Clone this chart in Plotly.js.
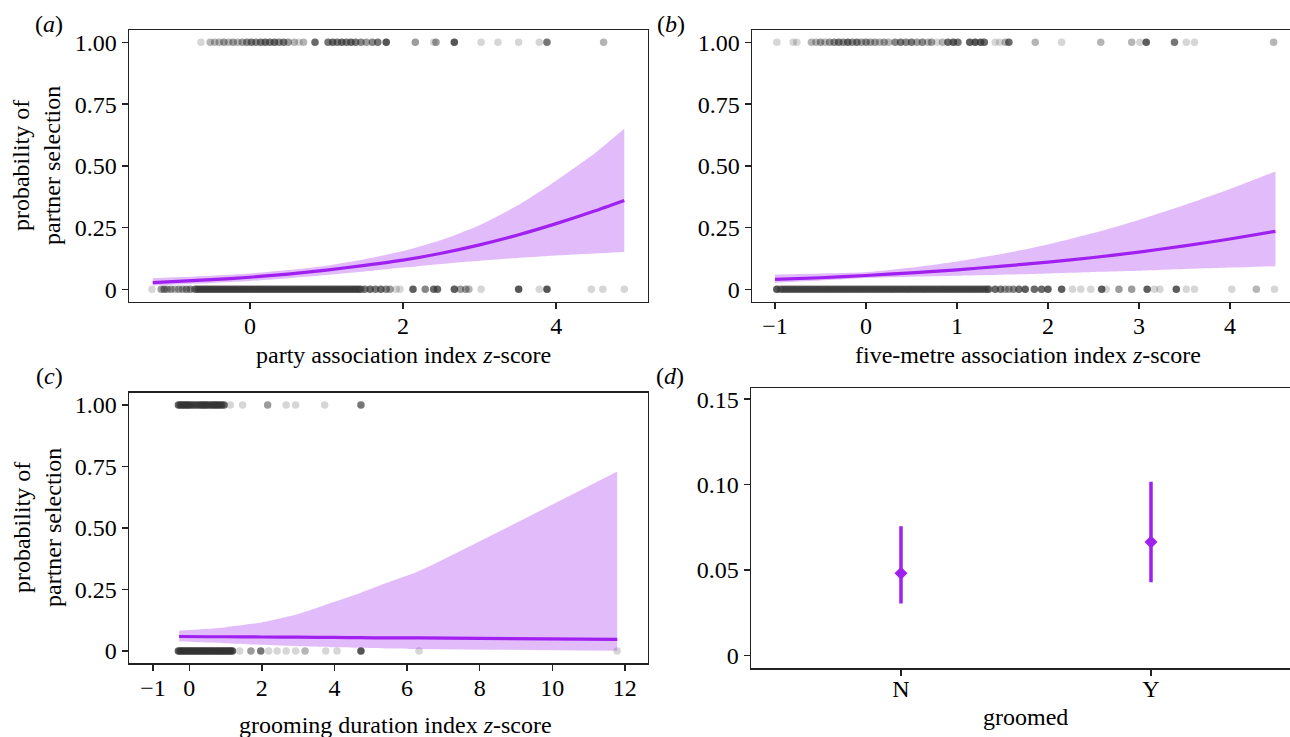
<!DOCTYPE html>
<html>
<head>
<meta charset="utf-8">
<script src="https://cdn.plot.ly/plotly-3.0.1.min.js"></script>
<style>html,body{margin:0;padding:0;background:#fff;}#chart{width:1290px;height:737px;}</style>
</head>
<body>
<div id="chart"></div>
<script>
// ---------- Panel (a): party association index ----------
const aCurveX  = [-1.27, -0.5, 0, 0.5, 1, 1.5, 2, 2.5, 3, 3.5, 4, 4.5, 4.89];
const aFit     = [0.027, 0.039, 0.049, 0.062, 0.078, 0.097, 0.118, 0.146, 0.180, 0.220, 0.266, 0.317, 0.360];
const aUpper   = [0.045, 0.055, 0.064, 0.078, 0.096, 0.122, 0.155, 0.200, 0.260, 0.340, 0.440, 0.550, 0.650];
const aLower   = [0.016, 0.026, 0.034, 0.045, 0.058, 0.072, 0.088, 0.103, 0.116, 0.127, 0.137, 0.145, 0.151];
const aSelX    = [-0.64,-0.52,-0.46,-0.40,-0.34,-0.28,-0.22,-0.16,-0.10,-0.04,0.02,0.08,0.14,0.20,0.26,0.32,0.38,0.44,0.50,0.58,0.64,0.70,0.85,1.02,1.08,1.14,1.20,1.26,1.32,1.38,1.45,1.52,1.60,1.67,1.78,2.16,2.40,2.43,2.67,3.02,3.24,3.51,3.78,3.88,4.62];
const aSelN    = [1,2,2,2,3,2,3,2,3,4,5,4,5,6,5,6,4,5,3,2,1,2,6,5,6,5,6,5,6,5,4,3,4,5,8,3,1,3,8,1,1,1,1,5,2];
const aNotX    = [-1.28,-1.16,-1.12,-1.08,-1.03,-0.98,-0.93,-0.88,-0.83,-0.78,
                  1.50,1.57,1.64,1.71,1.78,1.83,1.91,1.96,2.13,2.29,2.40,2.45,2.67,2.75,2.82,2.86,3.02,3.51,3.78,3.88,4.46,4.61,4.89];
const aNotN    = [1,3,4,3,3,2,3,3,4,4,
                  5,6,5,6,4,3,1,1,7,4,6,6,7,3,3,2,1,8,1,8,1,1,1];
// densely overlapping non-selected dyads (each position ~4 observations)
const aNotBandX = [-0.72,-0.695,-0.67,-0.645,-0.62,-0.595,-0.57,-0.545,-0.52,-0.495,-0.47,-0.445,-0.42,-0.395,-0.37,-0.345,-0.32,-0.295,-0.27,-0.245,-0.22,-0.195,-0.17,-0.145,-0.12,-0.095,-0.07,-0.045,-0.02,0.005,0.03,0.055,0.08,0.105,0.13,0.155,0.18,0.205,0.23,0.255,0.28,0.305,0.33,0.355,0.38,0.405,0.43,0.455,0.48,0.505,0.53,0.555,0.58,0.605,0.63,0.655,0.68,0.705,0.73,0.755,0.78,0.805,0.83,0.855,0.88,0.905,0.93,0.955,0.98,1.005,1.03,1.055,1.08,1.105,1.13,1.155,1.18,1.205,1.23,1.255,1.28,1.305,1.33,1.355,1.38,1.405,1.43,1.45];
const aNotBandN = 4;

// ---------- Panel (b): five-metre association index ----------
const bCurveX  = [-1, -0.5, 0, 0.5, 1, 1.5, 2, 2.5, 3, 3.5, 4, 4.5];
const bFit     = [0.040, 0.047, 0.056, 0.067, 0.079, 0.094, 0.110, 0.129, 0.151, 0.176, 0.204, 0.235];
const bUpper   = [0.060, 0.064, 0.069, 0.088, 0.113, 0.144, 0.182, 0.228, 0.281, 0.341, 0.406, 0.477];
const bLower   = [0.027, 0.036, 0.046, 0.051, 0.055, 0.059, 0.064, 0.070, 0.075, 0.082, 0.088, 0.094];
const bSelX    = [-0.98,-0.80,-0.76,-0.60,-0.55,-0.50,-0.45,-0.40,-0.35,-0.30,-0.25,-0.20,-0.15,-0.10,-0.05,0.00,0.05,0.10,0.15,0.20,0.25,0.32,0.38,0.44,0.50,0.56,0.62,0.68,0.72,0.78,0.84,0.90,0.96,1.01,1.14,1.20,1.26,1.30,1.42,1.47,1.53,1.57,1.86,2.15,2.58,2.92,3.01,3.08,3.39,3.52,3.61,4.48];
const bSelN    = [1,1,1,2,2,3,2,3,4,5,4,6,4,5,3,4,3,3,2,3,2,4,5,4,5,3,4,2,3,1,2,6,7,5,7,8,7,6,1,1,2,6,2,1,2,2,1,7,5,1,1,2];
const bNotX    = [-0.98,
                  1.42,1.48,1.53,1.57,1.62,1.68,1.75,1.85,1.93,2.00,2.15,2.27,2.36,2.47,2.59,2.64,2.78,2.92,3.09,3.17,3.23,3.41,3.52,3.61,4.02,4.29,4.49];
const bNotN    = [8,
                  6,5,3,3,4,6,7,6,6,7,7,1,1,1,7,1,3,3,7,1,1,7,1,1,1,2,1];
const bNotBandX = [-0.94,-0.915,-0.89,-0.865,-0.84,-0.815,-0.79,-0.765,-0.74,-0.715,-0.69,-0.665,-0.64,-0.615,-0.59,-0.565,-0.54,-0.515,-0.49,-0.465,-0.44,-0.415,-0.39,-0.365,-0.34,-0.315,-0.29,-0.265,-0.24,-0.215,-0.19,-0.165,-0.14,-0.115,-0.09,-0.065,-0.04,-0.015,0.01,0.035,0.06,0.085,0.11,0.135,0.16,0.185,0.21,0.235,0.26,0.285,0.31,0.335,0.36,0.385,0.41,0.435,0.46,0.485,0.51,0.535,0.56,0.585,0.61,0.635,0.66,0.685,0.71,0.735,0.76,0.785,0.81,0.835,0.86,0.885,0.91,0.935,0.96,0.985,1.01,1.035,1.06,1.085,1.11,1.135,1.16,1.185,1.21,1.235,1.26,1.285,1.31,1.335,1.35];
const bNotBandN = 4;

// ---------- Panel (c): grooming duration index ----------
const cCurveX  = [-0.28, 0.5, 1, 2, 3, 4, 4.7, 5.5, 6.33, 11.79];
const cFit     = [0.059, 0.058, 0.058, 0.057, 0.056, 0.055, 0.054, 0.053, 0.053, 0.047];
const cUpper   = [0.082, 0.090, 0.097, 0.116, 0.150, 0.200, 0.235, 0.280, 0.325, 0.730];
const cLower   = [0.040, 0.035, 0.032, 0.025, 0.019, 0.015, 0.013, 0.010, 0.008, 0.001];
const cSelX    = [-0.30,-0.25,-0.20,-0.15,-0.10,-0.05,0.00,0.05,0.10,0.15,0.20,0.25,0.30,0.35,0.40,0.45,0.50,0.55,0.60,0.65,0.70,0.75,0.80,0.85,0.90,0.96,1.13,1.47,2.16,2.67,2.93,3.73,4.73];
const cSelN    = [6,6,6,6,6,6,6,4,4,4,4,4,5,6,6,6,5,4,5,5,6,6,5,5,6,6,1,1,3,1,1,1,5];
const cNotX    = [-0.30,-0.25,-0.20,-0.15,-0.10,-0.05,0.00,0.05,0.10,0.15,0.20,0.25,0.30,0.35,0.40,0.45,0.50,0.55,0.60,0.65,0.70,0.75,0.80,0.85,0.90,0.95,1.00,1.05,1.10,1.15,1.19,
                  1.39,1.70,1.97,2.19,2.42,2.67,2.93,3.19,3.76,4.07,4.73,6.33,11.79];
const cNotN    = [7,7,7,7,7,7,7,7,7,7,7,7,7,7,7,7,7,7,7,7,7,7,7,7,7,7,7,7,7,7,7,
                  1,3,5,1,1,1,1,2,1,1,8,1,1];

// ---------- Panel (d): groomed ----------
const dCats    = ['N', 'Y'];
const dEst     = [0.0481, 0.0664];
const dLo      = [0.0304, 0.0428];
const dHi      = [0.0756, 0.1017];

// ---------- styling ----------
const PURPLE = '#A020F0';
const RIBBON = 'rgba(160,32,240,0.30)';
const FONT = 'Liberation Serif';
const FS = 24;
const TXT = '#000';
const W = 1290, H = 737;
const px = v => v / W;
const py = v => 1 - v / H;

function alphaOf(n) { return 1 - Math.pow(0.8, n); }

function rug(xs, ns, yv, xa, ya) {
  const op = Array.isArray(ns) ? ns.map(alphaOf) : alphaOf(ns);
  return {
    type: 'scatter', mode: 'markers', x: xs, y: xs.map(() => yv),
    xaxis: xa, yaxis: ya, hoverinfo: 'skip', showlegend: false,
    marker: { size: 7.5, color: '#333333', opacity: op, line: { width: 0 } }
  };
}
function ribbon(xs, lo, hi, xa, ya) {
  return [
    { type: 'scatter', mode: 'lines', x: xs, y: lo, xaxis: xa, yaxis: ya,
      line: { width: 0, color: RIBBON, shape: 'spline', smoothing: 0.6 }, hoverinfo: 'skip', showlegend: false },
    { type: 'scatter', mode: 'lines', x: xs, y: hi, xaxis: xa, yaxis: ya, fill: 'tonexty',
      fillcolor: RIBBON, line: { width: 0, color: RIBBON, shape: 'spline', smoothing: 0.6 }, hoverinfo: 'skip', showlegend: false }
  ];
}
function fitLine(xs, ys, xa, ya) {
  return { type: 'scatter', mode: 'lines', x: xs, y: ys, xaxis: xa, yaxis: ya,
    line: { width: 3.2, color: PURPLE, shape: 'spline', smoothing: 0.6 }, hoverinfo: 'skip', showlegend: false };
}

const data = [
  rug(aSelX, aSelN, 1, 'x', 'y'), rug(aNotX, aNotN, 0, 'x', 'y'), rug(aNotBandX, aNotBandN, 0, 'x', 'y'),
  ...ribbon(aCurveX, aLower, aUpper, 'x', 'y'), fitLine(aCurveX, aFit, 'x', 'y'),
  rug(bSelX, bSelN, 1, 'x2', 'y2'), rug(bNotX, bNotN, 0, 'x2', 'y2'), rug(bNotBandX, bNotBandN, 0, 'x2', 'y2'),
  ...ribbon(bCurveX, bLower, bUpper, 'x2', 'y2'), fitLine(bCurveX, bFit, 'x2', 'y2'),
  rug(cSelX, cSelN, 1, 'x3', 'y3'), rug(cNotX, cNotN, 0, 'x3', 'y3'),
  ...ribbon(cCurveX, cLower, cUpper, 'x3', 'y3'), fitLine(cCurveX, cFit, 'x3', 'y3'),
  { type: 'scatter', mode: 'markers', x: dCats, y: dEst, xaxis: 'x4', yaxis: 'y4', showlegend: false,
    marker: { symbol: 'diamond', size: 10, color: PURPLE },
    error_y: { type: 'data', symmetric: false,
      array: dHi.map((h, i) => h - dEst[i]), arrayminus: dEst.map((e, i) => e - dLo[i]),
      color: PURPLE, thickness: 3.5, width: 0 } }
];

const tickFont = { family: FONT, size: FS, color: TXT };
function axis(extra) {
  return Object.assign({
    showgrid: false, zeroline: false, showline: true, linecolor: '#222', linewidth: 1.4,
    ticks: 'outside', ticklen: 6, tickwidth: 1.4, tickcolor: '#222',
    tickfont: tickFont, fixedrange: true
  }, extra);
}
const probVals = [0, 0.25, 0.5, 0.75, 1];
const probText = ['0', '0.25', '0.50', '0.75', '1.00'];

const layout = {
  width: W, height: H, margin: { l: 0, r: 0, t: 0, b: 0 },
  paper_bgcolor: '#fff', plot_bgcolor: '#fff', showlegend: false,
  font: { family: FONT, size: FS, color: TXT },
  xaxis:  axis({ domain: [px(129), px(648)], range: [-1.58, 5.20], tickvals: [0, 2, 4], mirror: true, anchor: 'y', ticklabelstandoff: -4 }),
  yaxis:  axis({ domain: [py(301.7), py(30)], range: [-0.05, 1.05], tickvals: probVals, ticktext: probText, mirror: true, anchor: 'x' }),
  xaxis2: axis({ domain: [px(752), 1], range: [-1.253, 4.66], tickvals: [-1, 0, 1, 2, 3, 4], mirror: true, anchor: 'y2', ticklabelstandoff: -4 }),
  yaxis2: axis({ domain: [py(301.7), py(30)], range: [-0.05, 1.05], tickvals: probVals, ticktext: probText, mirror: false, anchor: 'x2' }),
  xaxis3: axis({ domain: [px(129), px(647.7)], range: [-1.66, 12.63], tickvals: [-1, 0, 2, 4, 6, 8, 10, 12], mirror: true, anchor: 'y3', ticklabelstandoff: -4 }),
  yaxis3: axis({ domain: [py(663.3), py(392.7)], range: [-0.05, 1.05], tickvals: probVals, ticktext: probText, mirror: true, anchor: 'x3' }),
  xaxis4: axis({ domain: [px(751), 1], range: [-0.6, 1.556], type: 'category', mirror: true, anchor: 'y4', ticklabelstandoff: -8 }),
  yaxis4: axis({ domain: [py(668.3), py(388)], range: [-0.0075, 0.1565], tickvals: [0, 0.05, 0.10, 0.15], ticktext: ['0', '0.05', '0.10', '0.15'], mirror: false, anchor: 'x4' }),
  annotations: [
    { text: '(<i>a</i>)', x: px(49), y: py(24) },
    { text: '(<i>b</i>)', x: px(671), y: py(24) },
    { text: '(<i>c</i>)', x: px(49), y: py(376) },
    { text: '(<i>d</i>)', x: px(670), y: py(376) },
    { text: 'party association index <i>z</i>-score', x: px(403), y: py(355) },
    { text: 'five-metre association index <i>z</i>-score', x: px(1028), y: py(355) },
    { text: 'grooming duration index <i>z</i>-score', x: px(395), y: py(725) },
    { text: 'groomed', x: px(1025), y: py(717) },
    { text: 'probability of<br>partner selection', x: px(37), y: py(166), textangle: -90 },
    { text: 'probability of<br>partner selection', x: px(37), y: py(528), textangle: -90 }
  ].map(a => Object.assign({ xref: 'paper', yref: 'paper', showarrow: false, xanchor: 'center', yanchor: 'middle',
    font: { family: FONT, size: FS, color: TXT } }, a))
};

Plotly.newPlot('chart', data, layout, { displayModeBar: false, staticPlot: true });
</script>
</body>
</html>
